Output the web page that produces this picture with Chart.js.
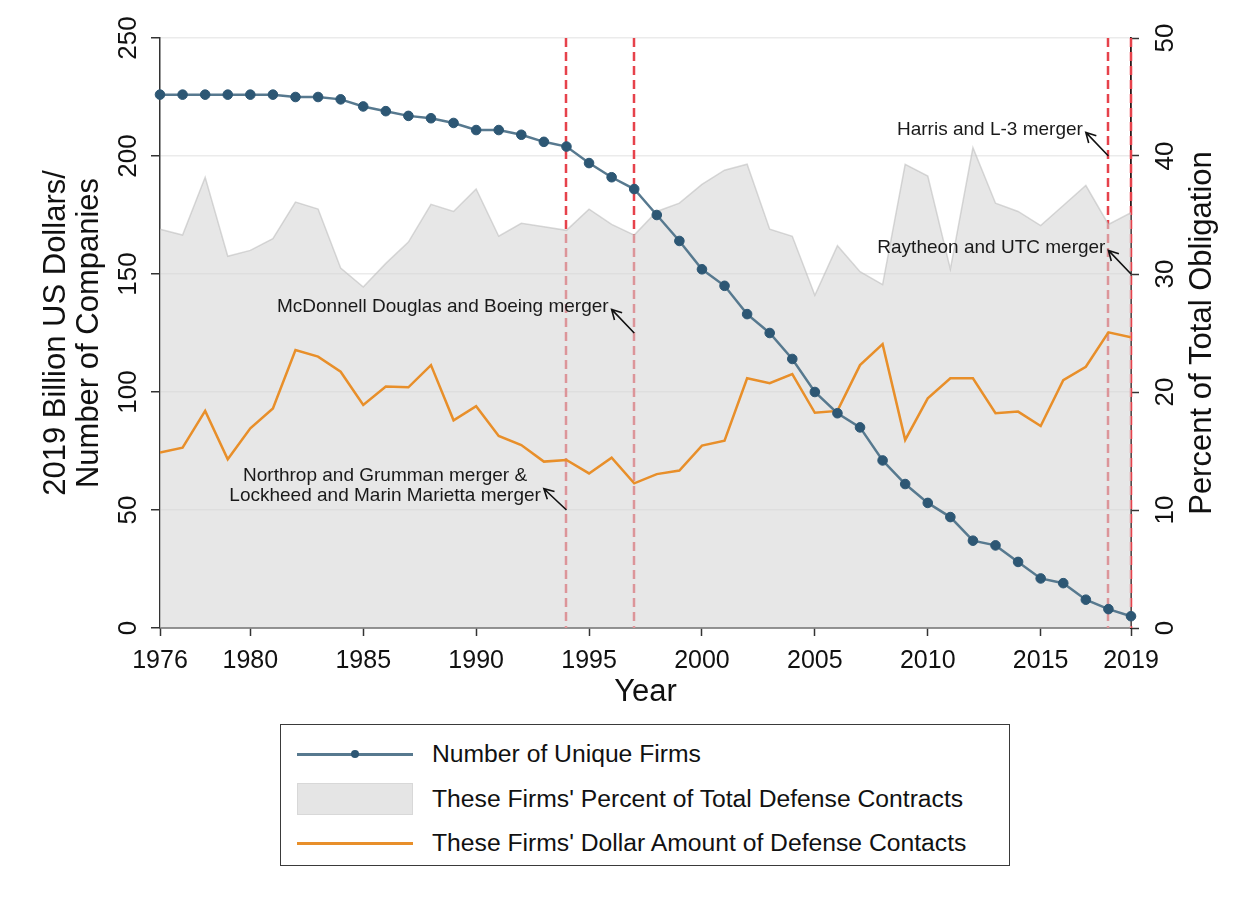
<!DOCTYPE html>
<html>
<head>
<meta charset="utf-8">
<script src="https://cdn.jsdelivr.net/npm/chart.js@4.4.1/dist/chart.umd.min.js"></script>
<style>
  html, body { margin: 0; padding: 0; background: #ffffff; }
  #wrap { position: relative; width: 1249px; height: 897px; overflow: hidden; background: #fff; }
  #chart { position: absolute; left: 0; top: 0; }
  #legend { position: absolute; left: 280px; top: 724px; width: 730px; height: 142px; box-sizing: border-box;
            border: 1.5px solid #3a3a3a; background: #fff;
            font-family: "Liberation Sans", Arial, sans-serif; font-size: 24.7px; color: #111; }
  .item { position: absolute; left: 0; width: 100%; height: 40px; }
  .sym { position: absolute; left: 16px; width: 116px; top: 0; height: 40px; }
  .txt { position: absolute; left: 151px; top: 0; height: 40px; line-height: 40px; white-space: nowrap; }
</style>
</head>
<body>
<div id="wrap">
  <canvas id="chart" width="1249" height="897"></canvas>
  <div id="legend"></div>
</div>
<script>
// ---------------- data ----------------
const years = [1976,1977,1978,1979,1980,1981,1982,1983,1984,1985,1986,1987,1988,1989,1990,
               1991,1992,1993,1994,1995,1996,1997,1998,1999,2000,2001,2002,2003,2004,2005,
               2006,2007,2008,2009,2010,2011,2012,2013,2014,2015,2016,2017,2018,2019];
const uniqueFirms = [226,226,226,226,226,226,225,225,224,221,219,217,216,214,211,
                     211,209,206,204,197,191,186,175,164,152,145,133,125,114,100,
                     91,85,71,61,53,47,37,35,28,21,19,12,8,5];
const percentOfTotal = [33.8,33.3,38.2,31.5,32.0,33.0,36.1,35.5,30.5,28.9,30.9,32.7,35.9,35.3,37.2,
                        33.2,34.3,34.0,33.7,35.5,34.2,33.3,35.3,36.0,37.6,38.8,39.3,33.8,33.2,28.2,
                        32.4,30.2,29.1,39.3,38.3,30.4,40.7,36.0,35.3,34.1,35.8,37.5,34.2,35.2];
const dollarAmount = [74.3,76.4,92.0,71.5,84.6,93.0,117.8,115.0,108.6,94.5,102.3,102.0,111.4,88.0,94.0,
                      81.4,77.5,70.5,71.2,65.5,72.2,61.3,65.2,66.7,77.3,79.4,105.8,103.7,107.6,91.2,
                      92.0,111.4,120.3,79.7,97.3,105.8,105.8,91.0,91.7,85.6,105.0,110.7,125.3,123.2];

const xTickYears = [1976,1980,1985,1990,1995,2000,2005,2010,2015,2019];
const leftTicks = [0,50,100,150,200,250];
const rightTicks = [0,10,20,30,40,50];
const mergerYears = [1994,1997,2018,2019];

const seriesLabels = ["Number of Unique Firms",
                      "These Firms' Percent of Total Defense Contracts",
                      "These Firms' Dollar Amount of Defense Contacts"];
const leftTitle = ["2019 Billion US Dollars/", "Number of Companies"];
const rightTitle = "Percent of Total Obligation";
const xTitle = "Year";

const annotTexts = [["McDonnell Douglas and Boeing merger"],
                    ["Northrop and Grumman merger &", "Lockheed and Marin Marietta merger"],
                    ["Harris and L-3 merger"],
                    ["Raytheon and UTC merger"]];
const arrowTailYear  = [1997, 1994, 2018, 2019];
const arrowTailValue = [125, 50, 200, 150];
const arrowHeadYear  = [1996, 1993, 2017, 2018];
const arrowHeadValue = [135, 59, 210, 160];

// ---------------- styles ----------------
const FONT = '"Liberation Sans", Arial, sans-serif';
const BLUE_LINE = '#57798f';
const BLUE_PT = '#2d5774';
const ORANGE = '#e88f2a';
const AREA_FILL = 'rgba(212,212,212,0.57)';
const AREA_LINE = 'rgba(185,185,185,0.55)';
const RED = '#e6424b';
const AXIS = '#333333';

const pts = (vals) => years.map((yr, i) => ({ x: yr, y: vals[i] }));

// merger vertical dashed lines (drawn before datasets so the area tints them)
const mergerLines = {
  id: 'mergerLines',
  beforeDatasetsDraw(chart) {
    const { ctx, chartArea } = chart;
    const xs = chart.scales.x;
    ctx.save();
    ctx.strokeStyle = RED;
    ctx.lineWidth = 2.5;
    ctx.setLineDash([9, 5]);
    mergerYears.forEach(yr => {
      const px = Math.round(xs.getPixelForValue(yr));
      ctx.beginPath();
      ctx.moveTo(px, chartArea.top);
      ctx.lineTo(px, chartArea.bottom);
      ctx.stroke();
    });
    ctx.restore();
  }
};

// annotations (arrows + text)
const annotations = {
  id: 'annotations',
  afterDatasetsDraw(chart) {
    const { ctx } = chart;
    const xs = chart.scales.x, ys = chart.scales.y;
    ctx.save();
    ctx.strokeStyle = '#111';
    ctx.fillStyle = '#1a1a1a';
    ctx.lineWidth = 1.6;
    ctx.font = '19px ' + FONT;
    ctx.textAlign = 'center';
    ctx.textBaseline = 'middle';
    annotTexts.forEach((lines, i) => {
      const tx = xs.getPixelForValue(arrowTailYear[i]);
      const ty = ys.getPixelForValue(arrowTailValue[i]);
      const hx = xs.getPixelForValue(arrowHeadYear[i]);
      const hy = ys.getPixelForValue(arrowHeadValue[i]);
      ctx.beginPath();
      ctx.moveTo(tx, ty);
      ctx.lineTo(hx, hy);
      const ang = Math.atan2(hy - ty, hx - tx);
      const L = 11, spread = 0.5;
      ctx.moveTo(hx - L * Math.cos(ang - spread), hy - L * Math.sin(ang - spread));
      ctx.lineTo(hx, hy);
      ctx.lineTo(hx - L * Math.cos(ang + spread), hy - L * Math.sin(ang + spread));
      ctx.stroke();
      const widths = lines.map(s => ctx.measureText(s).width);
      const maxW = Math.max(...widths);
      const cx = hx - 3 - maxW / 2;
      const lh = 19.5;
      const cy = hy - 3;
      lines.forEach((s, k) => {
        ctx.fillText(s, cx, cy + (k - (lines.length - 1) / 2) * lh);
      });
    });
    ctx.restore();
  }
};

// rotated y tick labels and right-hand title
const rotatedText = {
  id: 'rotatedText',
  afterDraw(chart) {
    const { ctx, chartArea } = chart;
    const y = chart.scales.y, y2 = chart.scales.y2;
    ctx.save();
    ctx.fillStyle = '#111';
    ctx.textAlign = 'center';
    ctx.textBaseline = 'middle';
    ctx.font = '26px ' + FONT;
    const drawRot = (text, x, yy) => {
      ctx.save(); ctx.translate(x, yy); ctx.rotate(-Math.PI / 2); ctx.fillText(text, 0, 0); ctx.restore();
    };
    leftTicks.forEach(v => drawRot(String(v), y.right - 31, y.getPixelForValue(v)));
    rightTicks.forEach(v => drawRot(String(v), y2.left + 35, y2.getPixelForValue(v)));
    ctx.font = '31px ' + FONT;
    drawRot(rightTitle, y2.left + 71, (chartArea.top + chartArea.bottom) / 2);
    ctx.restore();
  }
};

const chart = new Chart(document.getElementById('chart'), {
  type: 'line',
  data: {
    datasets: [
      {
        label: seriesLabels[0],
        data: pts(uniqueFirms),
        yAxisID: 'y',
        borderColor: BLUE_LINE,
        borderWidth: 2.5,
        pointRadius: 4.8,
        pointBackgroundColor: BLUE_PT,
        pointBorderColor: BLUE_PT,
        pointBorderWidth: 1,
        tension: 0,
        fill: false,
        order: 0,
        clip: 8
      },
      {
        label: seriesLabels[1],
        data: pts(percentOfTotal),
        yAxisID: 'y2',
        borderColor: AREA_LINE,
        borderWidth: 1.5,
        backgroundColor: AREA_FILL,
        pointRadius: 0,
        tension: 0,
        fill: 'origin',
        order: 2
      },
      {
        label: seriesLabels[2],
        data: pts(dollarAmount),
        yAxisID: 'y',
        borderColor: ORANGE,
        borderWidth: 2.5,
        pointRadius: 0,
        tension: 0,
        fill: false,
        order: 1
      }
    ]
  },
  options: {
    responsive: false,
    animation: false,
    layout: { padding: { top: 38, bottom: 186, left: 0, right: 0 } },
    plugins: { legend: { display: false }, tooltip: { enabled: false } },
    scales: {
      x: {
        type: 'linear',
        min: 1976, max: 2019,
        afterBuildTicks: s => { s.ticks = xTickYears.map(v => ({ value: v })); },
        afterFit: s => { s.height = 83; },
        ticks: {
          autoSkip: false, maxRotation: 0, minRotation: 0, padding: 10,
          color: '#111', font: { family: FONT, size: 25 },
          callback: v => String(v)
        },
        grid: { drawOnChartArea: false, drawTicks: true, tickLength: 8, tickColor: AXIS, tickWidth: 1.5 },
        border: { display: true, color: AXIS, width: 1.5 },
        title: { display: true, text: xTitle, color: '#111', font: { family: FONT, size: 31, lineHeight: 1.2 }, padding: 0 }
      },
      y: {
        position: 'left',
        min: 0, max: 250,
        afterBuildTicks: s => { s.ticks = leftTicks.map(v => ({ value: v })); },
        afterFit: s => { s.width = 160; },
        ticks: { display: false },
        grid: { color: '#ebebeb', lineWidth: 1.5, drawTicks: true, tickLength: 9, tickColor: AXIS, tickWidth: 1.5 },
        border: { display: true, color: AXIS, width: 1.5 },
        title: { display: true, text: leftTitle, color: '#111',
                 font: { family: FONT, size: 31, lineHeight: 1.07 }, padding: { top: 40, bottom: 0 } }
      },
      y2: {
        position: 'right',
        z: 1,
        min: 0, max: 50,
        afterBuildTicks: s => { s.ticks = rightTicks.map(v => ({ value: v })); },
        afterFit: s => { s.width = 118; },
        ticks: { display: false },
        grid: { drawOnChartArea: false, drawTicks: true, tickLength: 8, tickColor: AXIS, tickWidth: 1.5 },
        border: { display: true, color: '#2a1a1a', width: 1.8 }
      }
    }
  },
  plugins: [mergerLines, annotations, rotatedText]
});

// ---------------- HTML legend built from the datasets ----------------
(function buildLegend() {
  const box = document.getElementById('legend');
  const tops = [9, 54, 98];
  chart.data.datasets.forEach((ds, i) => {
    const item = document.createElement('div');
    item.className = 'item';
    item.style.top = tops[i] + 'px';
    const sym = document.createElement('div');
    sym.className = 'sym';
    if (i === 0) {
      sym.innerHTML = '<div style="position:absolute;left:0;right:0;top:19px;height:2.5px;background:' + BLUE_LINE + '"></div>' +
                      '<div style="position:absolute;left:54px;top:16px;width:8px;height:8px;border-radius:50%;background:' + BLUE_PT + '"></div>';
    } else if (i === 1) {
      sym.innerHTML = '<div style="position:absolute;left:0;right:0;top:4px;height:32px;box-sizing:border-box;background:#e5e5e5;border:1px solid #d8d8d8"></div>';
    } else {
      sym.innerHTML = '<div style="position:absolute;left:0;right:0;top:19px;height:2.5px;background:' + ORANGE + '"></div>';
    }
    const txt = document.createElement('div');
    txt.className = 'txt';
    txt.textContent = ds.label;
    item.appendChild(sym);
    item.appendChild(txt);
    box.appendChild(item);
  });
})();
</script>
</body>
</html>
